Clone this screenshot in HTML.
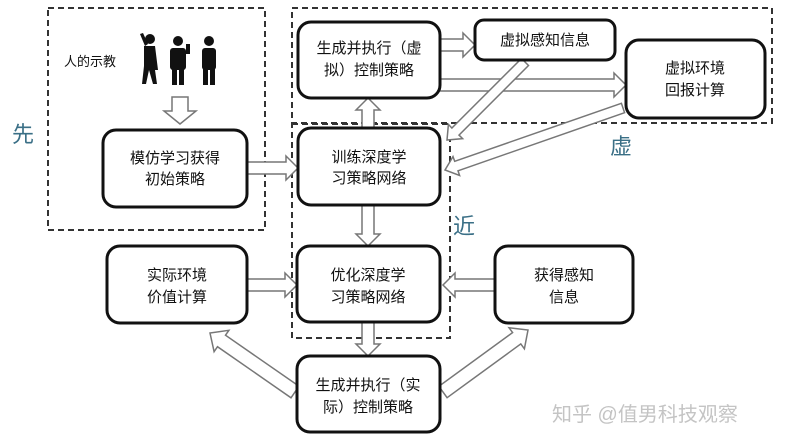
<!DOCTYPE html>
<html><head><meta charset="utf-8"><style>
html,body{margin:0;padding:0;background:#fff;width:788px;height:446px;overflow:hidden}
svg{display:block}
text{font-family:"Liberation Sans","Noto Sans CJK SC",sans-serif}
</style></head><body>
<svg id="s" width="788" height="446" viewBox="0 0 788 446" xmlns="http://www.w3.org/2000/svg">
<g fill="none" stroke="#333" stroke-width="2" stroke-dasharray="6,4">
<rect x="48" y="8" width="217" height="222"/>
<rect x="292" y="8" width="480" height="115"/>
<rect x="292" y="124" width="158" height="214"/>
</g>
<g id="arrows" fill="#fff" stroke="#777" stroke-width="1.5"></g>
<g fill="#fff" stroke="#111" stroke-width="3">
<rect x="103" y="130" width="144" height="77" rx="13"/>
<rect x="298" y="22" width="142" height="76" rx="13"/>
<rect x="475" y="20" width="140" height="40" rx="9"/>
<rect x="626" y="40" width="139" height="78" rx="13"/>
<rect x="298" y="128" width="142" height="77" rx="13"/>
<rect x="297" y="246" width="143" height="76" rx="13"/>
<rect x="107" y="246" width="140" height="77" rx="13"/>
<rect x="495" y="246" width="138" height="77" rx="13"/>
<rect x="297" y="356" width="143" height="76" rx="13"/>
</g>
<g fill="#111">
<circle cx="150" cy="39" r="5"/><path d="M144 46 h11 l3 24 l-3 0 l2 14 h-4 l-4 -14 l-3 14 h-4 l2 -18 z"/><path d="M145 46 l-5 -12 l3 -1 l5 11z"/>
<circle cx="178" cy="41" r="5"/><rect x="170" y="48" width="16" height="22" rx="3"/><rect x="172" y="68" width="5" height="17"/><rect x="179" y="68" width="5" height="17"/><rect x="186" y="44" width="4" height="10"/>
<circle cx="209" cy="41" r="5"/><rect x="202" y="48" width="14" height="22" rx="3"/><rect x="203" y="68" width="5" height="17"/><rect x="210" y="68" width="5" height="17"/>
</g>
<g font-size="15" fill="#111" text-anchor="middle">
<text x="90" y="66" text-anchor="middle" font-size="13">人的示教</text>
<text x="175" y="163">模仿学习获得</text><text x="175" y="184">初始策略</text>
<text x="369" y="53">生成并执行（虚</text><text x="369" y="75">拟）控制策略</text>
<text x="545" y="45">虚拟感知信息</text>
<text x="695" y="73">虚拟环境</text><text x="695" y="95">回报计算</text>
<text x="369" y="162">训练深度学</text><text x="369" y="183">习策略网络</text>
<text x="368" y="280">优化深度学</text><text x="368" y="302">习策略网络</text>
<text x="177" y="280">实际环境</text><text x="177" y="302">价值计算</text>
<text x="564" y="280">获得感知</text><text x="564" y="302">信息</text>
<text x="368" y="390">生成并执行（实</text><text x="368" y="412">际）控制策略</text>
</g>
<g font-size="22" fill="#3a6f86">
<text x="12" y="142">先</text><text x="610" y="154">虚</text><text x="453" y="234">近</text>
</g>
<text x="552" y="421" font-size="20" fill="#c4c4c4">知乎 @值男科技观察</text>
</svg>
<script>
var g=document.getElementById('arrows');
function arr(x1,y1,x2,y2,sw,hw,hl){sw=sw||6;hw=hw||12;hl=hl||12;
var dx=x2-x1,dy=y2-y1,L=Math.hypot(dx,dy),ux=dx/L,uy=dy/L,px=-uy,py=ux;
var bx=x2-ux*hl,by=y2-uy*hl;
var p=[[x1+px*sw,y1+py*sw],[bx+px*sw,by+py*sw],[bx+px*hw,by+py*hw],[x2,y2],[bx-px*hw,by-py*hw],[bx-px*sw,by-py*sw],[x1-px*sw,y1-py*sw]];
var e=document.createElementNS('http://www.w3.org/2000/svg','polygon');
e.setAttribute('points',p.map(function(q){return q[0].toFixed(1)+','+q[1].toFixed(1)}).join(' '));g.appendChild(e);}
arr(180,97,180,124,8,16,13);
arr(247,168,298,168);
arr(368,128,368,98);
arr(440,45,475,45);
arr(440,85,626,85);
arr(525,62,447,140,5,10,12);
arr(623,108,445,170,5,10,12);
arr(368,205,368,246);
arr(247,285,297,285);
arr(495,285,443,285);
arr(368,322,368,356);
arr(295,392,210,333,7,13,14);
arr(443,392,528,330,7,13,14);
</script>
</body></html>
